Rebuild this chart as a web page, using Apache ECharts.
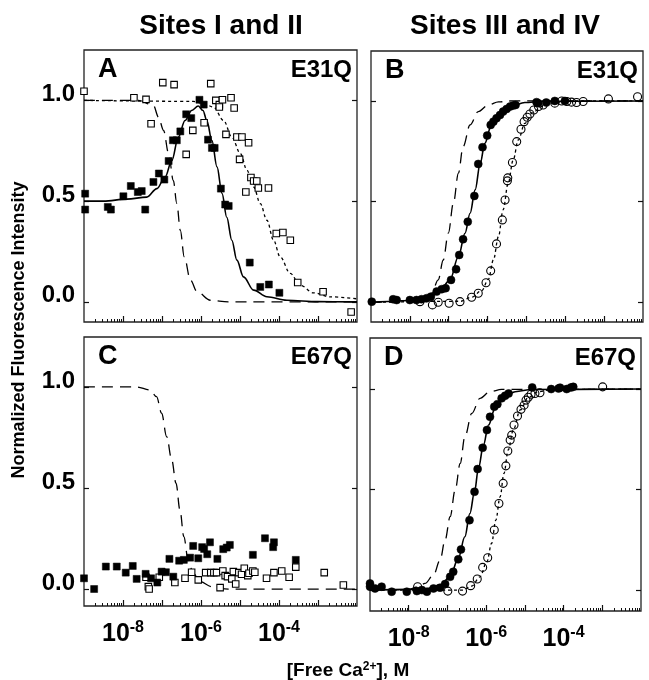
<!DOCTYPE html>
<html>
<head>
<meta charset="utf-8">
<script src="https://cdn.jsdelivr.net/npm/echarts@6/dist/echarts.min.js"></script>
<style>
html,body{margin:0;padding:0;background:#fff;}
#chart{width:649px;height:680px;}
</style>
</head>
<body>
<div id="chart"></div>
<script>
// x values are log10([Free Ca2+] / M)
const xMin = -9, xMax = -2;
const xMajorTicks = [-8, -7, -6, -5, -4, -3];
const xLabelExps = [-8, -6, -4];
const yTickVals = [0, 0.5, 1.0];

// Panel A (E31Q, sites I and II)
const aFilled = [[-8.97,0.537],[-8.97,0.458],[-8.39,0.471],[-8.31,0.458],[-7.99,0.524],[-7.80,0.575],[-7.62,0.545],[-7.52,0.550],[-7.43,0.458],[-7.22,0.595],[-7.08,0.637],[-6.94,0.607],[-6.83,0.699],[-6.72,0.802],[-6.62,0.802],[-6.53,0.846],[-6.38,0.931],[-6.25,0.912],[-6.04,1.003],[-5.93,0.979],[-5.82,0.805],[-5.72,0.764],[-5.65,0.764],[-5.49,0.562],[-5.38,0.483],[-5.29,0.476],[-4.75,0.195],[-4.48,0.074],[-4.26,0.086],[-3.99,0.045]];
const aOpen = [[-9.0,1.045],[-7.72,1.013],[-7.41,1.005],[-7.28,0.884],[-6.98,1.088],[-6.69,1.078],[-6.38,0.732],[-6.21,0.851],[-5.92,0.889],[-5.75,1.083],[-5.62,1.0],[-5.53,0.979],[-5.45,1.003],[-5.53,0.967],[-5.23,1.013],[-5.15,0.962],[-5.36,0.831],[-5.08,0.818],[-4.95,0.818],[-4.78,0.790],[-5.01,0.707],[-4.72,0.617],[-4.65,0.600],[-4.57,0.600],[-4.53,0.565],[-4.27,0.565],[-4.85,0.545],[-4.07,0.339],[-3.90,0.344],[-3.71,0.306],[-3.52,0.096],[-2.87,0.050],[-2.15,-0.05]];
const aSolid = [[-9,0.50],[-8.5,0.50],[-7.9,0.51],[-7.39,0.52],[-7.13,0.562],[-6.92,0.62],[-6.75,0.70],[-6.58,0.818],[-6.41,0.90],[-6.24,0.95],[-6.07,0.972],[-5.95,0.95],[-5.85,0.90],[-5.72,0.80],[-5.59,0.67],[-5.46,0.537],[-5.34,0.42],[-5.21,0.306],[-5.08,0.207],[-4.91,0.124],[-4.65,0.058],[-4.31,0.025],[-3.80,0.008],[-3.0,0.001],[-2,0]];
const aDashed = [[-9,1.0],[-7.6,1.0],[-7.22,0.975],[-7.09,0.917],[-6.96,0.851],[-6.83,0.736],[-6.71,0.603],[-6.62,0.488],[-6.53,0.355],[-6.43,0.223],[-6.27,0.108],[-6.10,0.05],[-5.76,0.008],[-5.3,0],[-2,0]];
const aDotted = [[-9,1.0],[-6.2,0.995],[-5.94,0.985],[-5.68,0.967],[-5.42,0.90],[-5.21,0.818],[-4.99,0.736],[-4.82,0.653],[-4.65,0.570],[-4.48,0.488],[-4.31,0.405],[-4.14,0.306],[-3.97,0.223],[-3.71,0.141],[-3.46,0.083],[-3.12,0.045],[-2.69,0.025],[-2,0.015]];

// Panel B (E31Q, sites III and IV)
const bFilled = [[-8.98,0.003],[-8.43,0.015],[-8.34,0.011],[-8.0,0.011],[-7.83,0.011],[-7.70,0.015],[-7.57,0.020],[-7.46,0.028],[-7.31,0.053],[-7.18,0.065],[-7.08,0.070],[-6.94,0.111],[-6.81,0.164],[-6.73,0.235],[-6.63,0.313],[-6.51,0.400],[-6.34,0.528],[-6.24,0.687],[-6.13,0.770],[-6.01,0.828],[-5.92,0.881],[-5.85,0.897],[-5.77,0.914],[-5.68,0.930],[-5.60,0.947],[-5.51,0.960],[-5.42,0.972],[-5.34,0.977],[-5.28,0.980],[-4.74,0.994],[-4.70,0.989],[-4.49,0.992],[-4.27,1.0],[-4.01,1.0]];
const bOpen = [[-7.74,0.003],[-7.42,-0.013],[-7.27,0.0],[-6.99,-0.005],[-6.71,0.003],[-6.41,0.025],[-6.24,0.045],[-6.04,0.097],[-5.92,0.156],[-5.77,0.290],[-5.62,0.409],[-5.55,0.508],[-5.49,0.603],[-5.48,0.618],[-5.36,0.694],[-5.25,0.798],[-5.14,0.859],[-5.06,0.897],[-4.98,0.919],[-4.91,0.935],[-4.81,0.955],[-4.69,0.972],[-4.57,0.980],[-4.27,0.989],[-4.09,1.0],[-3.96,0.997],[-3.84,0.994],[-3.71,0.992],[-3.54,0.997],[-2.89,1.010],[-2.14,1.021]];
const bSolid = [[-9,0],[-7.61,0.01],[-7.27,0.045],[-6.97,0.11],[-6.75,0.227],[-6.58,0.343],[-6.45,0.442],[-6.32,0.558],[-6.19,0.690],[-6.07,0.790],[-5.90,0.881],[-5.68,0.939],[-5.38,0.975],[-5.04,0.992],[-4.6,0.998],[-2,1.0]];
const bDashed = [[-9,0],[-7.9,0.003],[-7.61,0.015],[-7.44,0.045],[-7.27,0.111],[-7.14,0.210],[-7.01,0.343],[-6.88,0.492],[-6.75,0.641],[-6.63,0.773],[-6.45,0.881],[-6.24,0.947],[-5.98,0.980],[-5.72,0.995],[-5.38,1.0],[-2,1.0]];
const bDotted = [[-9,0],[-6.7,0.005],[-6.41,0.025],[-6.15,0.058],[-5.98,0.114],[-5.85,0.210],[-5.72,0.326],[-5.60,0.459],[-5.47,0.591],[-5.34,0.707],[-5.21,0.806],[-5.04,0.889],[-4.82,0.947],[-4.52,0.980],[-4.18,0.994],[-3.7,1.0],[-2,1.0]];

// Panel C (E67Q, sites I and II)
const cFilled = [[-9.0,0.054],[-8.74,0.001],[-8.44,0.112],[-8.16,0.112],[-7.93,0.082],[-7.75,0.115],[-7.65,0.051],[-7.42,0.076],[-7.28,0.054],[-7.12,0.033],[-7.01,0.087],[-6.90,0.084],[-6.81,0.150],[-6.71,0.062],[-6.56,0.141],[-6.44,0.145],[-6.28,0.156],[-6.20,0.214],[-6.07,0.153],[-5.97,0.208],[-5.92,0.199],[-5.84,0.173],[-5.77,0.232],[-5.58,0.150],[-5.43,0.198],[-5.34,0.206],[-5.26,0.219],[-4.67,0.170],[-4.36,0.252],[-4.15,0.208],[-4.13,0.232],[-3.57,0.145]];
const cOpen = [[-7.41,0.059],[-7.35,0.013],[-7.33,0.001],[-7.07,0.059],[-6.67,0.033],[-6.41,0.054],[-6.24,0.084],[-6.07,0.046],[-5.88,0.082],[-5.75,0.082],[-5.67,0.082],[-5.60,0.082],[-5.51,0.008],[-5.44,0.090],[-5.38,0.067],[-5.32,0.062],[-5.21,0.051],[-5.11,0.026],[-5.17,0.087],[-5.03,0.082],[-4.96,0.074],[-4.89,0.104],[-4.80,0.067],[-4.77,0.079],[-4.67,0.090],[-4.62,0.084],[-4.32,0.054],[-4.13,0.082],[-3.93,0.090],[-3.74,0.059],[-3.57,0.109],[-2.84,0.082],[-2.35,0.021]];
const cDashed = [[-9,1.0],[-7.65,1.0],[-7.31,0.985],[-7.14,0.952],[-7.01,0.870],[-6.88,0.754],[-6.75,0.639],[-6.64,0.524],[-6.54,0.392],[-6.44,0.260],[-6.33,0.145],[-6.20,0.079],[-6.03,0.038],[-5.73,0.013],[-5.3,0],[-2,0]];

// Panel D (E67Q, sites III and IV)
const dFilled = [[-9.0,0.033],[-9.0,0.017],[-8.87,0.008],[-8.70,0.017],[-8.44,-0.008],[-8.05,-0.008],[-7.79,-0.005],[-7.66,0.0],[-7.53,-0.008],[-7.36,0.008],[-7.19,0.012],[-7.06,0.030],[-6.93,0.066],[-6.85,0.091],[-6.72,0.153],[-6.65,0.202],[-6.43,0.348],[-6.30,0.489],[-6.22,0.602],[-6.09,0.708],[-5.98,0.796],[-5.90,0.862],[-5.79,0.912],[-5.71,0.925],[-5.60,0.954],[-5.51,0.967],[-5.42,0.978],[-4.81,1.008],[-4.32,1.0],[-4.13,1.003],[-4.09,1.007],[-3.92,1.0],[-3.81,1.008],[-3.75,1.011]];
const dOpen = [[-7.77,0.017],[-6.99,-0.005],[-6.61,-0.005],[-6.40,0.022],[-6.23,0.055],[-6.09,0.113],[-5.96,0.161],[-5.79,0.299],[-5.67,0.431],[-5.56,0.531],[-5.49,0.618],[-5.44,0.692],[-5.38,0.746],[-5.34,0.771],[-5.28,0.821],[-5.19,0.866],[-5.10,0.899],[-5.02,0.920],[-4.97,0.945],[-4.91,0.959],[-4.84,0.974],[-4.74,0.978],[-4.61,0.982],[-2.99,1.011]];
const dSolid = [[-9,0.0],[-7.58,0.005],[-7.19,0.025],[-6.93,0.066],[-6.72,0.158],[-6.55,0.265],[-6.42,0.381],[-6.30,0.489],[-6.20,0.605],[-6.07,0.721],[-5.94,0.821],[-5.77,0.904],[-5.56,0.959],[-5.25,0.987],[-4.82,0.998],[-2,1.0]];
const dDashed = [[-9,0],[-8.0,0.003],[-7.77,0.017],[-7.58,0.033],[-7.36,0.075],[-7.19,0.149],[-7.06,0.249],[-6.93,0.365],[-6.80,0.498],[-6.67,0.630],[-6.55,0.763],[-6.37,0.879],[-6.16,0.954],[-5.90,0.987],[-5.60,0.998],[-2,1.0]];
const dDotted = [[-9,0],[-6.99,0.0],[-6.61,0.0],[-6.37,0.02],[-6.16,0.066],[-5.98,0.141],[-5.86,0.232],[-5.75,0.348],[-5.64,0.464],[-5.54,0.580],[-5.43,0.697],[-5.30,0.796],[-5.12,0.896],[-4.91,0.959],[-4.65,0.987],[-4.3,0.998],[-2,1.0]];

const panelLetters = ['A', 'B', 'C', 'D'];
const panelMutants = ['E31Q', 'E31Q', 'E67Q', 'E67Q'];
const columnTitles = ['Sites I and II', 'Sites III and IV'];
const yTitle = 'Normalized Fluorescence Intensity';

// ---- layout ----
const FONT = '"Liberation Sans", Arial, Helvetica, sans-serif';
const grids = [
  {left: 84, top: 50, width: 273, height: 272},
  {left: 371, top: 51, width: 272, height: 271},
  {left: 84, top: 337, width: 273, height: 269},
  {left: 370, top: 338, width: 271, height: 273}
];
const yRanges = [[-0.1, 1.25], [-0.098, 1.248], [-0.083, 1.247], [-0.104, 1.254]];

const minorTicks = [];
for (let e = xMin; e < xMax; e++) {
  for (let k = 2; k <= 9; k++) minorTicks.push(e + Math.log10(k));
}

const xAxes = [], yAxes = [];
grids.forEach((g, i) => {
  const showX = i >= 2, showY = (i % 2 === 0);
  xAxes.push({
    type: 'value', gridIndex: i, min: xMin, max: xMax, interval: 1, position: 'bottom',
    axisLine: {show: false, onZero: false}, splitLine: {show: false},
    axisTick: {show: true, inside: true, length: 6, lineStyle: {color: '#111', width: 1.2}, customValues: xMajorTicks},
    axisLabel: {
      show: showX, margin: 14, customValues: xLabelExps,
      formatter: v => '{b|10}{s|' + Math.round(v) + '}',
      rich: {
        b: {fontSize: 25, fontWeight: 'bold', fontFamily: FONT, color: '#000'},
        s: {fontSize: 16, fontWeight: 'bold', fontFamily: FONT, color: '#000', verticalAlign: 'top', padding: [0, 0, 12, 0]}
      }
    }
  });
  xAxes.push({
    type: 'value', gridIndex: i, min: xMin, max: xMax, interval: 1, position: 'bottom',
    axisLine: {show: false, onZero: false}, splitLine: {show: false}, axisLabel: {show: false},
    axisTick: {show: true, inside: true, length: 3, lineStyle: {color: '#111', width: 1}, customValues: minorTicks}
  });
  yAxes.push({
    type: 'value', gridIndex: i, min: yRanges[i][0], max: yRanges[i][1], position: 'left',
    axisLine: {show: false, onZero: false}, splitLine: {show: false},
    axisTick: {show: true, inside: true, length: 5, lineStyle: {color: '#111', width: 1.2}, customValues: yTickVals},
    axisLabel: {show: showY, customValues: yTickVals, margin: 9, formatter: v => v.toFixed(1),
      verticalAlign: 'bottom', lineHeight: 12,
      fontSize: 24, fontWeight: 'bold', fontFamily: FONT, color: '#000'}
  });
  yAxes.push({
    type: 'value', gridIndex: i, min: yRanges[i][0], max: yRanges[i][1], position: 'right',
    axisLine: {show: false, onZero: false}, splitLine: {show: false}, axisLabel: {show: false},
    axisTick: {show: true, inside: true, length: 5, lineStyle: {color: '#111', width: 1.2}, customValues: yTickVals}
  });
});

function lineS(data, gi, kind) {
  const type = kind === 'solid' ? 'solid' : (kind === 'dashed' ? [11, 7] : [3, 3]);
  return {
    type: 'line', xAxisIndex: gi * 2, yAxisIndex: gi * 2, data: data,
    showSymbol: false, symbol: 'none', smooth: 0.35, smoothMonotone: 'x', z: 2, silent: true,
    lineStyle: {color: '#000', width: kind === 'solid' ? 1.6 : 1.3, type: type, opacity: 1}
  };
}
function scatS(data, gi, shape, filled) {
  const openFill = shape === 'sq' ? '#fff' : 'rgba(255,255,255,0)';
  return {
    type: 'scatter', xAxisIndex: gi * 2, yAxisIndex: gi * 2, data: data, clip: false, z: 3, silent: true,
    symbol: shape === 'sq' ? 'rect' : 'circle',
    symbolSize: shape === 'sq' ? (filled ? 7 : 6.5) : 8,
    itemStyle: filled ? {color: '#000', borderColor: '#000', borderWidth: 0.5, opacity: 1}
                      : {color: openFill, borderColor: '#000', borderWidth: 1.1, opacity: 1}
  };
}

const series = [
  lineS(aDashed, 0, 'dashed'), lineS(aDotted, 0, 'dotted'), lineS(aSolid, 0, 'solid'),
  scatS(aOpen, 0, 'sq', false), scatS(aFilled, 0, 'sq', true),
  lineS(bDashed, 1, 'dashed'), lineS(bDotted, 1, 'dotted'), lineS(bSolid, 1, 'solid'),
  scatS(bOpen, 1, 'ci', false), scatS(bFilled, 1, 'ci', true),
  lineS(cDashed, 2, 'dashed'),
  scatS(cOpen, 2, 'sq', false), scatS(cFilled, 2, 'sq', true),
  lineS(dDashed, 3, 'dashed'), lineS(dDotted, 3, 'dotted'), lineS(dSolid, 3, 'solid'),
  scatS(dOpen, 3, 'ci', false), scatS(dFilled, 3, 'ci', true)
];

const graphics = [];
const tStyle = (text, size) => ({text: text, fontSize: size, fontWeight: 'bold', fontFamily: FONT, fill: '#000'});
graphics.push({type: 'text', x: 221, y: 26, style: Object.assign(tStyle(columnTitles[0], 28), {align: 'center', verticalAlign: 'middle'})});
graphics.push({type: 'text', x: 505, y: 26, style: Object.assign(tStyle(columnTitles[1], 28), {align: 'center', verticalAlign: 'middle'})});
grids.forEach((g, i) => {
  graphics.push({type: 'text', x: g.left + 14, y: g.top + 20, style: Object.assign(tStyle(panelLetters[i], 27), {align: 'left', verticalAlign: 'middle'})});
  graphics.push({type: 'text', x: g.left + g.width - 5, y: g.top + 20, style: Object.assign(tStyle(panelMutants[i], 24), {align: 'right', verticalAlign: 'middle'})});
});
graphics.push({type: 'text', x: 19, y: 330, rotation: Math.PI / 2,
  style: Object.assign(tStyle(yTitle, 18), {align: 'center', verticalAlign: 'middle'})});
graphics.push({type: 'text', x: 348, y: 671,
  style: {text: '{t|[Free Ca}{s|2+}{t|], M}', align: 'center', verticalAlign: 'middle',
    rich: {t: {fontSize: 19, fontWeight: 'bold', fontFamily: FONT, fill: '#000'},
           s: {fontSize: 12, fontWeight: 'bold', fontFamily: FONT, fill: '#000', verticalAlign: 'top', padding: [0, 0, 8, 0]}}}});

const chart = echarts.init(document.getElementById('chart'), null, {renderer: 'canvas'});
chart.setOption({
  animation: false,
  backgroundColor: '#fff',
  grid: grids.map(g => Object.assign({show: true, borderColor: '#222', borderWidth: 1.3, backgroundColor: 'transparent'}, g)),
  xAxis: xAxes,
  yAxis: yAxes,
  series: series,
  graphic: graphics
});
</script>
</body>
</html>
